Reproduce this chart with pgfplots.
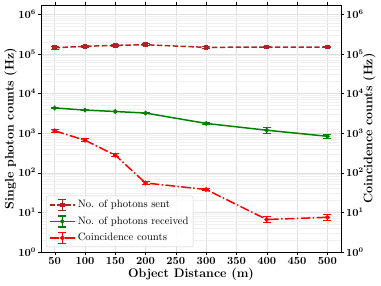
\documentclass[border=0pt]{standalone}
\usepackage{pgfplots}
\usepackage{pgfplotstable}
\pgfplotsset{compat=1.18}
\definecolor{sentc}{HTML}{B22222}
\definecolor{recc}{HTML}{008000}
\definecolor{coinc}{HTML}{FF0000}
\pgfplotstableread{
x y e
50 1.42e5 1.2e4
100 1.54e5 1.0e4
150 1.63e5 1.0e4
200 1.69e5 1.0e4
300 1.45e5 0.8e4
400 1.48e5 0.8e4
500 1.48e5 0.8e4
}\sent
\pgfplotstableread{
x y e
50 4300 150
100 3800 120
150 3500 100
200 3200 100
300 1750 80
400 1180 180
500 830 80
}\received
\pgfplotstableread{
x y e
50 1140 80
100 660 50
150 277 20
200 55 5
300 37.7 3
400 6.6 1.2
500 7.5 1.2
}\coinc
\pgfplotsset{
  errleg/.style={legend image code/.code={
    \draw[##1] (0cm,0cm) -- (0.9cm,0cm);
    \draw[##1,solid] (0.45cm,-0.19cm) -- (0.45cm,0.19cm)
       (0.31cm,-0.19cm) -- (0.59cm,-0.19cm)
       (0.31cm,0.19cm) -- (0.59cm,0.19cm);
    \draw[##1,solid] plot coordinates {(0.45cm,0cm)};
  }}
}
\begin{document}
\begin{tikzpicture}
\begin{axis}[
  scale only axis,
  width=300bp, height=247bp,
  ymode=log,
  xmin=27.5, xmax=522.5,
  ymin=1, ymax=1.7e6,
  xtick={50,100,...,500},
  ytick={1,10,100,1000,10000,100000,1000000},
  grid=both,
  major grid style={gray!25},
  minor grid style={gray!12},
  tick label style={font=\fontsize{10.5}{12}\selectfont\bfseries\boldmath, inner sep=2pt},
  label style={font=\fontsize{12.5}{14}\selectfont\bfseries},
  xlabel={Object Distance (m)},
  ylabel={Single photon counts (Hz)},
  ylabel style={at={(axis description cs:-0.08,0.5)}, anchor=south, inner sep=0pt},
  xlabel style={at={(axis description cs:0.5,-0.065)}, anchor=north, inner sep=0pt},
  axis line style={black},
  tick align=outside,
  tick style={black},
  minor tick length=0pt,
  major tick length=3pt,
  legend style={at={(0.017,0.02)}, anchor=south west, font=\fontsize{10.7}{12}\selectfont,
    draw=gray!40, rounded corners=2pt, fill=white, fill opacity=0.85, text opacity=1,
    row sep=3.5pt, inner sep=2.5pt},
  legend cell align=left,
  error bars/y dir=both, error bars/y explicit,
]
\addplot[color=sentc, line width=1.5pt, dash pattern=on 5.5pt off 2.4pt, mark=square*, mark size=1.6pt, mark options={solid},
  error bars/error bar style={line width=1pt, solid},
  error bars/error mark options={rotate=90, mark size=4bp, line width=1pt}, errleg]
  table[x=x, y=y, y error=e] {\sent};
\addlegendentry{No. of photons sent}
\addplot[color=recc, line width=1.5pt, solid, mark=*, mark size=1.5pt,
  error bars/error bar style={line width=1pt, solid},
  error bars/error mark options={rotate=90, mark size=4bp, line width=1pt}, errleg]
  table[x=x, y=y, y error=e] {\received};
\addlegendentry{No. of photons received}
\addplot[color=coinc, line width=1.5pt, dash pattern=on 9.6pt off 2.4pt on 1.5pt off 2.4pt, mark=*, mark size=1.6pt, mark options={solid},
  error bars/error bar style={line width=1pt, solid},
  error bars/error mark options={rotate=90, mark size=4bp, line width=1pt}, errleg]
  table[x=x, y=y, y error=e] {\coinc};
\addlegendentry{Coincidence counts}
\end{axis}
\begin{axis}[
  scale only axis,
  width=300bp, height=247bp,
  ymode=log,
  xmin=27.5, xmax=522.5,
  ymin=1, ymax=1.7e6,
  axis x line=none,
  axis y line*=right,
  ytick={1,10,100,1000,10000,100000,1000000},
  tick label style={font=\fontsize{10.5}{12}\selectfont\bfseries\boldmath, inner sep=2pt},
  label style={font=\fontsize{12.5}{14}\selectfont\bfseries},
  ylabel={Coincidence counts (Hz)},
  ylabel style={at={(axis description cs:1.073,0.5)}, anchor=north, inner sep=0pt},
  tick align=outside,
  tick style={black},
  minor tick length=0pt,
  major tick length=3pt,
]
\end{axis}
\path ([yshift=5bp]current axis.north);
\path ([yshift=-34bp]current axis.south);
\path ([xshift=-41bp]current axis.west);
\path ([xshift=40bp]current axis.east);
\end{tikzpicture}
\end{document}
